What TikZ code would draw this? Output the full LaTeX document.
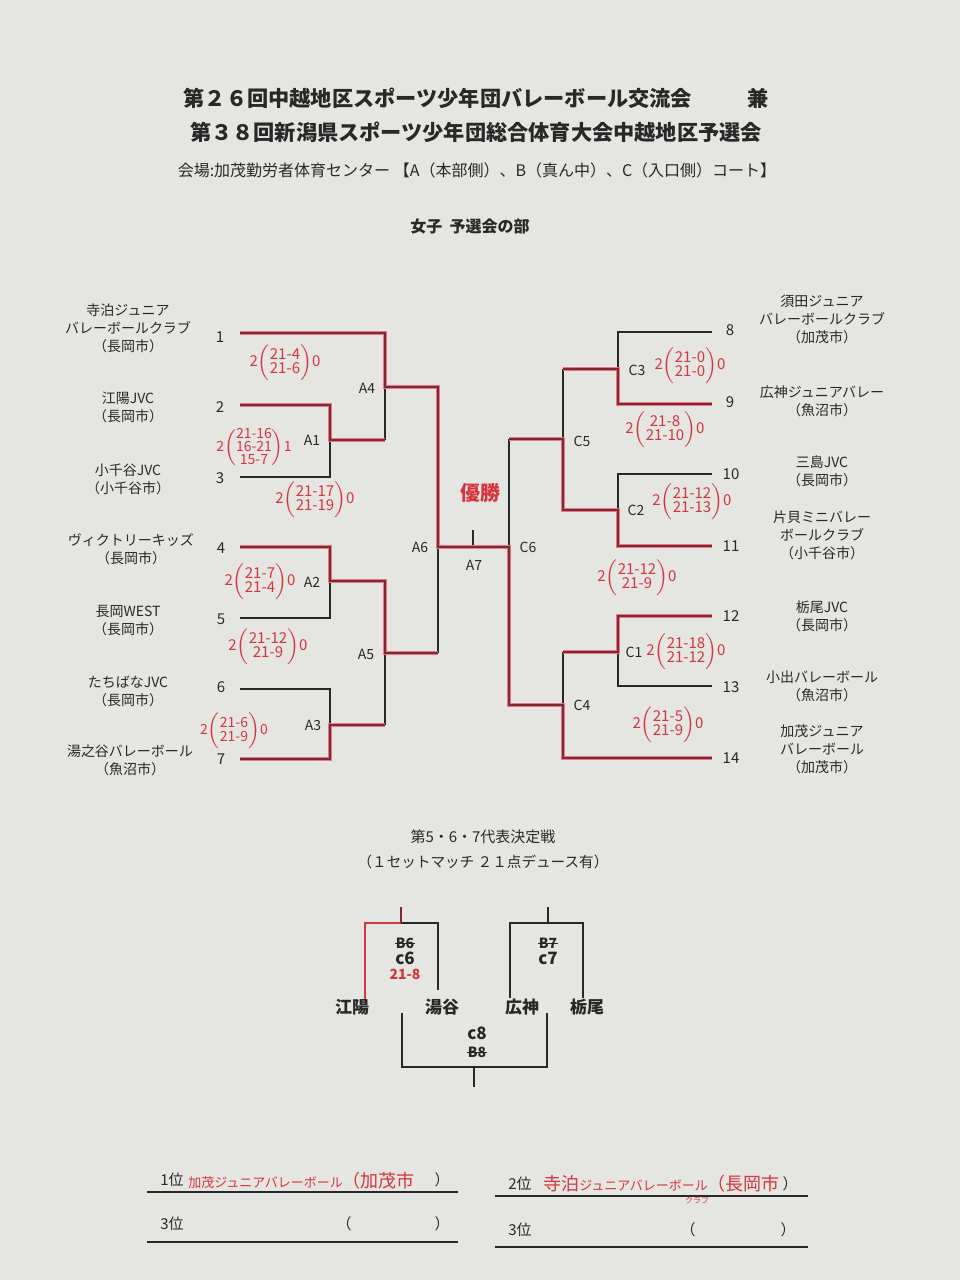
\documentclass[tikz,border=0pt]{standalone}
\usepackage{fontspec}
\setmainfont{Noto Sans CJK JP}
\usetikzlibrary{positioning}

\definecolor{paper}{RGB}{229,229,226}
\definecolor{ink}{RGB}{40,40,40}
\definecolor{win}{RGB}{135,38,50}
\definecolor{winedge}{RGB}{222,125,135}
\definecolor{pen}{RGB}{214,52,62}

\tikzset{
  lose/.style={draw=ink, line width=0.6pt},
  wins/.style={draw=win, line width=1.4pt, preaction={draw=winedge, line width=2.4pt}},
  head/.style={font=\fontsize{10.6}{12}\selectfont\bfseries, text=ink, inner sep=0pt},
  team/.style={align=center, font=\fontsize{7}{9}\selectfont, text=ink, inner sep=0pt},
  seed/.style={font=\fontsize{7.5}{9}\selectfont, text=ink, inner sep=0pt},
  game/.style={font=\fontsize{7}{9}\selectfont, text=ink, inner sep=0pt},
  hand/.style={font=\fontsize{7.5}{7.5}\selectfont, text=pen, inner sep=0pt},
  scrawl/.style={font=\fontsize{8.5}{9}\selectfont\bfseries, text=ink, inner sep=0pt},
  struck/.style={font=\fontsize{7}{8}\selectfont\bfseries, text=ink, inner sep=0.5pt,
    path picture={\draw[ink, line width=0.5pt] (path picture bounding box.west) -- (path picture bounding box.east);}},
}
\newcommand{\score}[3]{#1$\left(\renewcommand{\arraystretch}{0.8}\begin{tabular}{@{}c@{}}#2\end{tabular}\right)$#3}

\begin{document}
\begin{tikzpicture}[x=0.5pt,y=-0.5pt]
  \fill[paper] (0,0) rectangle (960,1280);
  \useasboundingbox (0,0) rectangle (960,1280);

  % headings
  \node[head] (h1) at (476,98) {第２６回中越地区スポーツ少年団バレーボール交流会\hspace{2.6em}兼};
  \node[head] (h2) at (476,132) {第３８回新潟県スポーツ少年団総合体育大会中越地区予選会};
  \node[team, font=\fontsize{8}{9}\selectfont] (h3) at (477,170) {会場:加茂勤労者体育センター\ 【A（本部側）、B（真ん中）、C（入口側）コート】};
  \node[team, font=\fontsize{8}{9}\selectfont\bfseries] (h4) at (470,226) {女子\ \ 予選会の部};

  % teams, left
  \node[team] (t1) at (128,328) {寺泊ジュニア\\バレーボールクラブ\\（長岡市）};
  \node[team] (t2) at (128,407) {江陽JVC\\（長岡市）};
  \node[team] (t3) at (128,479) {小千谷JVC\\（小千谷市）};
  \node[team] (t4) at (131,549) {ヴィクトリーキッズ\\（長岡市）};
  \node[team] (t5) at (128,621) {長岡WEST\\（長岡市）};
  \node[team] (t6) at (128,691) {たちばなJVC\\（長岡市）};
  \node[team] (t7) at (130,760) {湯之谷バレーボール\\（魚沼市）};
  % teams, right
  \node[team] (t8) at (822,319) {須田ジュニア\\バレーボールクラブ\\（加茂市）};
  \node[team] (t9) at (822,401) {広神ジュニアバレー\\（魚沼市）};
  \node[team] (t10) at (822,471) {三島JVC\\（長岡市）};
  \node[team] (t11) at (822,535) {片貝ミニバレー\\ボールクラブ\\（小千谷市）};
  \node[team] (t12) at (822,616) {栃尾JVC\\（長岡市）};
  \node[team] (t13) at (822,686) {小出バレーボール\\（魚沼市）};
  \node[team] (t14) at (822,749) {加茂ジュニア\\バレーボール\\（加茂市）};

  % seed numbers
  \node[seed] (n1) at (220,337) {1};
  \node[seed] (n2) at (220,407) {2};
  \node[seed] (n3) at (220,478) {3};
  \node[seed] (n4) at (221,548) {4};
  \node[seed] (n5) at (221,619) {5};
  \node[seed] (n6) at (221,687) {6};
  \node[seed] (n7) at (221,759) {7};
  \node[seed] (n8) at (730,330) {8};
  \node[seed] (n9) at (730,402) {9};
  \node[seed] (n10) at (731,474) {10};
  \node[seed] (n11) at (731,546) {11};
  \node[seed] (n12) at (731,616) {12};
  \node[seed] (n13) at (731,687) {13};
  \node[seed] (n14) at (731,758) {14};

  % line ends and match points
  \coordinate (s1) at (240,333);
  \coordinate (s2) at (240,405);
  \coordinate (s3) at (240,477);
  \coordinate (s4) at (240,547);
  \coordinate (s5) at (240,618);
  \coordinate (s6) at (240,689);
  \coordinate (s7) at (240,759);
  \coordinate (s8) at (712,332);
  \coordinate (s9) at (712,404);
  \coordinate (s10) at (712,474);
  \coordinate (s11) at (712,546);
  \coordinate (s12) at (712,616);
  \coordinate (s13) at (712,686);
  \coordinate (s14) at (712,758);
  \coordinate (a1) at (330,440);
  \coordinate (a2) at (330,581);
  \coordinate (a3) at (330,725);
  \coordinate (a4) at (385,387);
  \coordinate (a5) at (385,653);
  \coordinate (a6) at (438,547);
  \coordinate (a7) at (473,547);
  \coordinate (a7top) at (473,530);
  \coordinate (c1) at (618,652);
  \coordinate (c2) at (618,510);
  \coordinate (c3) at (618,369);
  \coordinate (c4) at (563,705);
  \coordinate (c5) at (563,439);
  \coordinate (c6) at (509,547);

  % lost lines
  \draw[lose] (s3) -| (a1);
  \draw[lose] (a1 -| a4) -- (a4);
  \draw[lose] (s5) -| (a2);
  \draw[lose] (s6) -| (a3);
  \draw[lose] (a3 -| a5) -- (a5);
  \draw[lose] (a5 -| a6) -- (a6);
  \draw[lose] (s8) -| (c3);
  \draw[lose] (c3 -| c5) -- (c5);
  \draw[lose] (s10) -| (c2);
  \draw[lose] (c5 -| c6) -- (c6);
  \draw[lose] (s13) -| (c1);
  \draw[lose] (c1 -| c4) -- (c4);
  \draw[lose, line width=0.9pt] (a7top) -- (a7);

  % won lines
  \draw[wins] (s1) -| (a4) -| (a6) -- (c6) |- (c4) |- (s14);
  \draw[wins] (s2) -| (a1) -- (a1 -| a4);
  \draw[wins] (s4) -| (a2) -| (a5) -- (a5 -| a6);
  \draw[wins] (s7) -| (a3) -- (a3 -| a5);
  \draw[wins] (s9) -| (c3) -- (c3 -| c5);
  \draw[wins] (s11) -| (c2) -| (c5) -- (c5 -| c6);
  \draw[wins] (s12) -| (c1) -- (c1 -| c4);

  % match labels
  \node[game] (A1) at (312,440) {A1};
  \node[game] (A2) at (312,582) {A2};
  \node[game] (A3) at (313,725) {A3};
  \node[game] (A4) at (367,388) {A4};
  \node[game] (A5) at (366,654) {A5};
  \node[game] (A6) at (420,547) {A6};
  \node[game] (A7) at (474,565) {A7};
  \node[game] (C1) at (634,652) {C1};
  \node[game] (C2) at (636,510) {C2};
  \node[game] (C3) at (637,370) {C3};
  \node[game] (C4) at (582,705) {C4};
  \node[game] (C5) at (582,441) {C5};
  \node[game] (C6) at (528,547) {C6};

  % handwritten results
  \node[hand] (rA4) at (285,363) {\score{2}{21-4\\21-6}{0}};
  \node[hand, font=\fontsize{7}{6.6}\selectfont] (rA1) at (254,448) {\score{2}{21-16\\16-21\\15-7}{1}};
  \node[hand] (rA6) at (315,500) {\score{2}{21-17\\21-19}{0}};
  \node[hand] (rA2) at (260,582) {\score{2}{21-7\\21-4}{0}};
  \node[hand] (rA5) at (268,647) {\score{2}{21-12\\21-9}{0}};
  \node[hand, font=\fontsize{7}{7}\selectfont] (rA3) at (234,731) {\score{2}{21-6\\21-9}{0}};
  \node[hand] (rC3) at (690,366) {\score{2}{21-0\\21-0}{0}};
  \node[hand] (rC5) at (665,430) {\score{2}{21-8\\21-10}{0}};
  \node[hand] (rC2) at (692,502) {\score{2}{21-12\\21-13}{0}};
  \node[hand] (rC6) at (637,578) {\score{2}{21-12\\21-9}{0}};
  \node[hand] (rC1) at (686,652) {\score{2}{21-18\\21-12}{0}};
  \node[hand] (rC4) at (668,725) {\score{2}{21-5\\21-9}{0}};
  \node[hand, font=\fontsize{10}{10}\selectfont\bfseries] (champ) at (480,493) {優勝};

  % 5-6-7 playoff
  \node[team, font=\fontsize{7.5}{9}\selectfont] (p1) at (483,837) {第5・6・7代表決定戦};
  \node[team, font=\fontsize{7.3}{9}\selectfont] (p2) at (483,862) {（１セットマッチ\ ２１点デュース有）};

  \coordinate (k6top) at (401,907);
  \coordinate (k6) at (401,923);
  \coordinate (e1) at (365,1000);
  \coordinate (e2) at (438,990);
  \coordinate (k7top) at (548,907);
  \coordinate (k7) at (548,923);
  \coordinate (e3) at (510,998);
  \coordinate (e4) at (583,998);
  \coordinate (e5) at (402,1013);
  \coordinate (e6) at (547,1013);
  \coordinate (k8) at (474,1067);
  \coordinate (k8bot) at (474,1087);

  \draw[lose] (k6) -| (e2);
  \draw[lose] (k7top) -- (k7) -| (e3);
  \draw[lose] (k7) -| (e4);
  \draw[lose] (e5) |- (k8) -| (e6);
  \draw[lose] (k8) -- (k8bot);
  \draw[draw=pen, line width=0.7pt] (k6) -| (e1);
  \draw[draw=win, line width=1pt] (k6top) -- (k6);

  \node[scrawl] (q1) at (352,1007) {江陽};
  \node[scrawl] (q2) at (442,1007) {湯谷};
  \node[scrawl] (q3) at (522,1007) {広神};
  \node[scrawl] (q4) at (587,1007) {栃尾};
  \node[struck] (m6) at (405,943) {B6};
  \node[scrawl] (m6b) at (405,958) {c6};
  \node[hand, font=\fontsize{7}{8}\selectfont\bfseries] (m6c) at (405,974) {21-8};
  \node[struck] (m7) at (548,943) {B7};
  \node[scrawl] (m7b) at (548,958) {c7};
  \node[scrawl] (m8) at (477,1033) {c8};
  \node[struck] (m8b) at (477,1052) {B8};

  % ranking
  \node[seed] (r1) at (172,1180) {1位};
  \node[hand, anchor=west, font=\fontsize{6.5}{7}\selectfont] (r1t) at (188,1181) {加茂ジュニアバレーボール{\fontsize{9}{9}\selectfont（加茂市}};
  \node[seed] (r1p) at (442,1180) {）};
  \node[seed] (r2) at (520,1184) {2位};
  \node[hand, anchor=west, font=\fontsize{6.5}{7}\selectfont] (r2t) at (543,1184) {{\fontsize{9}{9}\selectfont 寺泊}ジュニアバレーボール{\fontsize{9}{9}\selectfont（長岡市}};
  \node[hand, font=\fontsize{4}{4}\selectfont] (r2s) at (697,1200) {クラブ};
  \node[seed] (r2p) at (790,1184) {）};
  \node[seed] (r3) at (172,1224) {3位};
  \node[seed] (r3a) at (344,1224) {（};
  \node[seed] (r3b) at (442,1224) {）};
  \node[seed] (r4) at (520,1230) {3位};
  \node[seed] (r4a) at (688,1230) {（};
  \node[seed] (r4b) at (788,1230) {）};

  \coordinate (u1) at (147,1192);
  \coordinate (u2) at (458,1192);
  \coordinate (u3) at (495,1196);
  \coordinate (u4) at (808,1196);
  \coordinate (u5) at (147,1242);
  \coordinate (u6) at (458,1242);
  \coordinate (u7) at (495,1247);
  \coordinate (u8) at (808,1247);
  \draw[lose, line width=1.1pt] (u1) -- (u2);
  \draw[lose, line width=1.1pt] (u3) -- (u4);
  \draw[lose, line width=1.1pt] (u5) -- (u6);
  \draw[lose, line width=1.1pt] (u7) -- (u8);
\end{tikzpicture}
\end{document}
